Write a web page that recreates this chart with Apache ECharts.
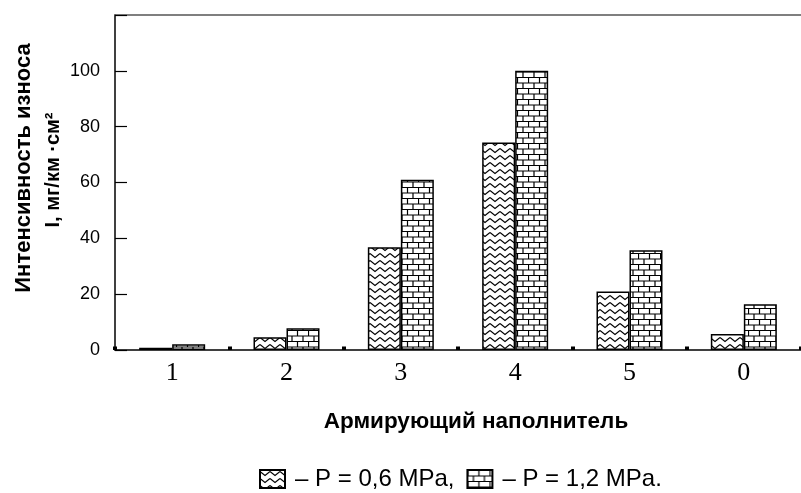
<!DOCTYPE html>
<html><head><meta charset="utf-8">
<script src="https://cdn.jsdelivr.net/npm/echarts@6/dist/echarts.min.js"></script>
<style>html,body{margin:0;padding:0;background:#fff}#c{width:801px;height:493px}</style>
</head><body><div id="c"></div>
<script>
const categories = ['1', '2', '3', '4', '5', '0'];
const seriesLow = [0.8, 4.6, 36.8, 74.3, 21, 5.7];
const seriesHigh = [2.1, 7.8, 61, 100, 35.7, 16.4];
const seriesNames = ['– P = 0,6 MPa,', '– P = 1,2 MPa.'];
const yTicks = [0, 20, 40, 60, 80, 100];
const xTitle = 'Армирующий наполнитель';
const yTitle1 = 'Интенсивность износа';
const yTitle2 = 'I, мг/км ·см²';

function zigzag() {
  const c = document.createElement('canvas'); c.width = 10; c.height = 7;
  const g = c.getContext('2d'); g.fillStyle = '#fff'; g.fillRect(0,0,10,7);
  g.strokeStyle = '#000'; g.lineWidth = 1.1;
  g.beginPath(); g.moveTo(0,1.5); g.lineTo(5,5.5); g.lineTo(10,1.5); g.stroke();
  return c;
}
function brick() {
  const c = document.createElement('canvas'); c.width = 22; c.height = 11;
  const g = c.getContext('2d'); g.fillStyle = '#fff'; g.fillRect(0,0,22,11);
  g.strokeStyle = '#000'; g.lineWidth = 1.2;
  g.beginPath();
  g.moveTo(0,0.5); g.lineTo(22,0.5);
  g.moveTo(0,6); g.lineTo(22,6);
  g.moveTo(0.5,0); g.lineTo(0.5,6);
  g.moveTo(11.5,0); g.lineTo(11.5,6);
  g.moveTo(6,6); g.lineTo(6,11);
  g.moveTo(17,6); g.lineTo(17,11);
  g.stroke();
  return c;
}
const chart = echarts.init(document.getElementById('c'));
chart.setOption({
  animation: false,
  backgroundColor: '#fff',
  grid: { left: 115, top: 15, right: -9, bottom: 143 },
  legend: {
    left: 254, top: 462, itemWidth: 25, itemHeight: 18, itemGap: 12, icon: 'rect',
    textStyle: { fontFamily: 'Liberation Sans', fontSize: 24, color: '#000', padding: [0,0,0,5] },
    data: seriesNames
  },
  xAxis: [{
    type: 'category', data: categories, position: 'bottom',
    axisLine: { lineStyle: { color: '#000', width: 1.5 } },
    axisTick: { show: true, inside: true, length: 3.5, lineStyle: { color: '#000', width: 4 },
      interval: 0 },
    axisLabel: { fontFamily: 'Liberation Serif', fontSize: 26, color: '#000', margin: 10 }
  }, {
    type: 'category', data: categories, position: 'top',
    axisLine: { lineStyle: { color: '#555', width: 1.5 } },
    axisTick: { show: false }, axisLabel: { show: false }
  }],
  yAxis: {
    type: 'value', min: 0, max: 120, interval: 20,
    axisLine: { show: true, lineStyle: { color: '#000', width: 1.5 } },
    axisTick: { show: true, inside: true, length: 12, lineStyle: { color: '#000', width: 1.2 } },
    splitLine: { show: false },
    axisLabel: { fontFamily: 'Liberation Sans', fontSize: 18, color: '#000', margin: 15,
      formatter: v => yTicks.indexOf(v) >= 0 ? String(v) : '' }
  },
  graphic: [
    { type: 'text', x: 476, y: 422,
      style: { text: xTitle, fontFamily: 'Liberation Sans', fontSize: 22.5, fontWeight: 'bold',
        fill: '#000', align: 'center', verticalAlign: 'middle' } },
    { type: 'text', x: 24, y: 168, rotation: Math.PI/2,
      style: { text: yTitle1, fontFamily: 'Liberation Sans', fontSize: 22, fontWeight: 'bold',
        fill: '#000', align: 'center', verticalAlign: 'middle' } },
    { type: 'text', x: 53, y: 170, rotation: Math.PI/2,
      style: { text: yTitle2, fontFamily: 'Liberation Sans', fontSize: 20, fontWeight: 'bold',
        fill: '#000', align: 'center', verticalAlign: 'middle' } }
  ],
  series: [
    { name: seriesNames[0], type: 'bar', data: seriesLow, barWidth: 33, barGap: '0%',
      itemStyle: { color: { image: zigzag(), repeat: 'repeat' }, borderColor: '#000', borderWidth: 1.5 } },
    { name: seriesNames[1], type: 'bar', data: seriesHigh, barWidth: 33, barGap: '0%',
      itemStyle: { color: { image: brick(), repeat: 'repeat' }, borderColor: '#000', borderWidth: 1.5 } }
  ]
});
</script></body></html>
